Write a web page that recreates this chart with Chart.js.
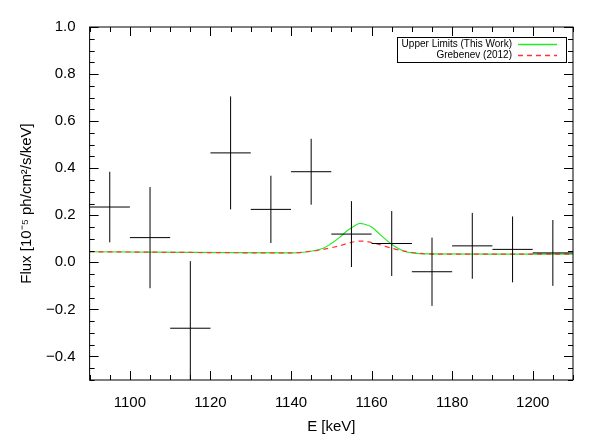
<!DOCTYPE html>
<html>
<head>
<meta charset="utf-8">
<script src="https://cdn.jsdelivr.net/npm/chart.js@4/dist/chart.umd.min.js"></script>
<style>
  body { margin: 0; background: #fff; }
  #wrap { width: 598px; height: 446px; }
</style>
</head>
<body>
<div id="wrap"><canvas id="chart"></canvas></div>
<script>
// measured points (bin centre, flux, error)
const energies = [1095, 1105, 1115, 1125, 1135, 1145, 1155, 1165, 1175, 1185, 1195, 1205];
const flux = [0.235, 0.105, -0.28, 0.465, 0.225, 0.385, 0.12, 0.08, -0.04, 0.07, 0.055, 0.04];
const fluxErr = [0.15, 0.215, 0.285, 0.24, 0.143, 0.14, 0.14, 0.138, 0.145, 0.14, 0.14, 0.14];
const binHalfWidth = 5;

// model curves
const upperE = [1090, 1140, 1144, 1148, 1150, 1152, 1154, 1156, 1157, 1158, 1160, 1162, 1164, 1166, 1168, 1170, 1174, 1210];
const upperFlux = [0.045, 0.040, 0.045, 0.06, 0.08, 0.105, 0.135, 0.158, 0.165, 0.163, 0.15, 0.12, 0.09, 0.065, 0.048, 0.04, 0.036, 0.035];
const grebE = [1090, 1140, 1144, 1148, 1152, 1155, 1157, 1159, 1162, 1165, 1168, 1172, 1176, 1210];
const grebFlux = [0.045, 0.040, 0.045, 0.055, 0.07, 0.085, 0.09, 0.088, 0.075, 0.06, 0.048, 0.038, 0.035, 0.035];

const xTicks = [1100, 1120, 1140, 1160, 1180, 1200];
const yTicks = [-0.4, -0.2, 0, 0.2, 0.4, 0.6, 0.8, 1.0];

function toXY(xs, ys) {
    return xs.map((x, i) => ({ x: x, y: ys[i] }));
}

const framePlugin = {
    id: 'frame',
    afterDatasetsDraw(chart) {
        const ctx = chart.ctx;
        const a = chart.chartArea;
        const xs = chart.scales.x, ys = chart.scales.y;

        // error crosses
        ctx.save();
        ctx.beginPath();
        ctx.rect(a.left, a.top, a.right - a.left, a.bottom - a.top);
        ctx.clip();
        ctx.strokeStyle = '#000';
        ctx.lineWidth = 1;
        energies.forEach(function(e, i) {
            const px = xs.getPixelForValue(e);
            const py = ys.getPixelForValue(flux[i]);
            ctx.beginPath();
            ctx.moveTo(xs.getPixelForValue(e - binHalfWidth), py);
            ctx.lineTo(xs.getPixelForValue(e + binHalfWidth), py);
            ctx.moveTo(px, ys.getPixelForValue(flux[i] + fluxErr[i]));
            ctx.lineTo(px, ys.getPixelForValue(flux[i] - fluxErr[i]));
            ctx.stroke();
        });
        ctx.restore();

        // frame and inward ticks
        ctx.save();
        ctx.strokeStyle = '#000';
        ctx.lineWidth = 1;
        ctx.strokeRect(a.left, a.top, a.right - a.left, a.bottom - a.top);
        ctx.beginPath();
        for (let v = 1090; v <= 1210; v += 5) {
            const px = Math.round(xs.getPixelForValue(v)) + 0.5;
            const len = v % 20 === 0 ? 9 : 5;
            ctx.moveTo(px, a.bottom); ctx.lineTo(px, a.bottom - len);
            ctx.moveTo(px, a.top); ctx.lineTo(px, a.top + len);
        }
        for (let k = -10; k <= 20; k++) {
            const v = k * 0.05;
            const py = Math.round(ys.getPixelForValue(v)) + 0.5;
            const len = k % 4 === 0 ? 9 : 5;
            ctx.moveTo(a.left, py); ctx.lineTo(a.left + len, py);
            ctx.moveTo(a.right, py); ctx.lineTo(a.right - len, py);
        }
        ctx.stroke();

        // legend box
        const bx = 397, by = 37, bw = 169, bh = 25;
        ctx.fillStyle = '#fff';
        ctx.fillRect(bx, by, bw, bh);
        ctx.strokeRect(bx + 0.5, by + 0.5, bw, bh);
        ctx.font = '10px "Liberation Sans", Arial, sans-serif';
        ctx.fillStyle = '#000';
        ctx.textAlign = 'right';
        ctx.textBaseline = 'middle';
        ctx.fillText('Upper Limits (This Work)', 512, by + 7);
        ctx.fillText('Grebenev (2012)', 512, by + 18);
        ctx.lineWidth = 1.3;
        ctx.strokeStyle = '#22ee22';
        ctx.beginPath(); ctx.moveTo(518, by + 7.5); ctx.lineTo(557, by + 7.5); ctx.stroke();
        ctx.strokeStyle = '#ff3333';
        ctx.setLineDash([5, 4]);
        ctx.beginPath(); ctx.moveTo(518, by + 18.5); ctx.lineTo(557, by + 18.5); ctx.stroke();
        ctx.restore();
    }
};

const font15 = { size: 15, family: '"Liberation Sans", Arial' };

const chart = new Chart(document.getElementById('chart'), {
    type: 'scatter',
    data: {
        datasets: [
            {
                label: 'Grebenev (2012)',
                data: toXY(grebE, grebFlux),
                showLine: true,
                borderColor: '#ff3333',
                borderDash: [5, 4],
                borderWidth: 1.2,
                pointRadius: 0,
                tension: 0.3
            },
            {
                label: 'Upper Limits (This Work)',
                data: toXY(upperE, upperFlux),
                showLine: true,
                borderColor: '#22ee22',
                borderWidth: 1.2,
                pointRadius: 0,
                tension: 0.3
            }
        ]
    },
    options: {
        responsive: true,
        maintainAspectRatio: false,
        animation: false,
        layout: { padding: { top: 27, right: 25, left: 14, bottom: 10 } },
        plugins: { legend: { display: false }, tooltip: { enabled: false } },
        scales: {
            x: {
                type: 'linear',
                min: 1090,
                max: 1210,
                afterBuildTicks: function(axis) {
                    axis.ticks = xTicks.map(v => ({ value: v }));
                },
                grid: { display: false },
                border: { display: false },
                ticks: { color: '#000', font: font15, padding: 6, callback: v => String(v) },
                title: { display: true, text: 'E [keV]', color: '#000', font: font15, padding: 0 }
            },
            y: {
                min: -0.5,
                max: 1.0,
                afterBuildTicks: function(axis) {
                    axis.ticks = yTicks.map(v => ({ value: v }));
                },
                grid: { display: false },
                border: { display: false },
                ticks: {
                    color: '#000',
                    font: font15,
                    padding: 6,
                    callback: v => v.toFixed(1).replace('-', '\u2212')
                },
                title: {
                    display: true,
                    text: 'Flux [10\u207B\u2075 ph/cm\u00B2/s/keV]',
                    color: '#000',
                    font: font15,
                    padding: 4
                }
            }
        }
    },
    plugins: [framePlugin]
});
</script>
</body>
</html>
